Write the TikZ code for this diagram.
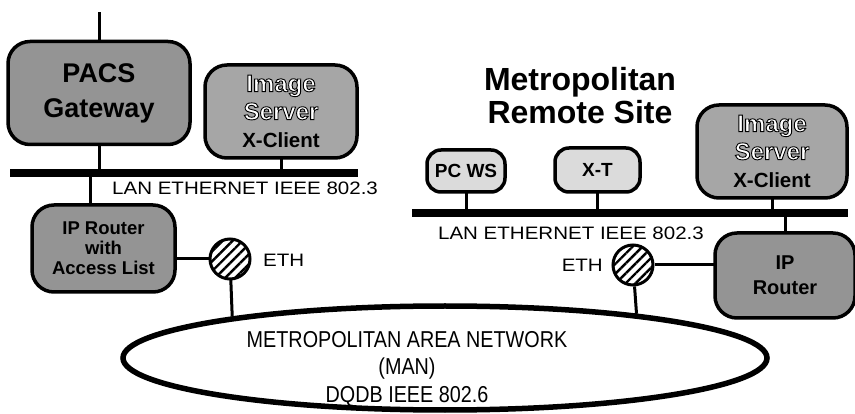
\documentclass[tikz,border=0pt]{standalone}
\usepackage{fontspec}
\setmainfont{Liberation Sans}
\newfontfamily\lanfont{Liberation Sans}[FakeStretch=1.14]
\newfontfamily\manfont{Liberation Sans}[FakeStretch=0.86]
\usetikzlibrary{shapes.geometric,patterns.meta}
% outlined lettering as in the scanned figure
\newcommand{\hollow}[1]{\textcolor{white}{\special{pdf:literal direct 0.9 w 2 Tr 0 G}#1\special{pdf:literal direct 0 Tr}}}
\newcommand{\client}{{\fontsize{20.5}{26}\selectfont X-Client}}

\begin{document}
\begin{tikzpicture}[
            x=1pt, y=-1pt,
            HostBox/.style={draw, line width=3.5pt, rounded corners=22pt, fill=black!42, align=center, inner sep=0pt, outer sep=0pt},
            ServerBox/.style={HostBox, fill=black!35, minimum height=93pt, font=\bfseries\fontsize{24}{28}\selectfont},
            LightBox/.style={HostBox, rounded corners=14pt, fill=black!14, font=\bfseries\fontsize{19}{20}\selectfont},
            LanBar/.style={fill=black, inner sep=0pt, minimum height=8pt, outer sep=0pt},
            EthTap/.style={draw, circle, line width=3pt, minimum size=40pt, inner sep=0pt, fill=white, pattern={Lines[angle=45,distance=7pt,line width=2.4pt]}},
            LanLabel/.style={font=\lanfont\fontsize{18}{20}\selectfont, inner sep=0pt},
            Link/.style={line width=3pt},
            ]
            \useasboundingbox (0,0) rectangle (855,414);

            % main hospital site
            \node [HostBox, minimum width=182pt, minimum height=103pt, font=\bfseries\fontsize{27}{35}\selectfont] (pacs) at (99,93) {PACS\\Gateway};
            \node [ServerBox, minimum width=152pt] (srvL) at (281,111.5) {\hollow{Image}\\\hollow{Server}\\\client};
            \node [LanBar, minimum width=348pt] (lanL) at (184,173) {};
            \node [LanLabel, anchor=west] (lanLtxt) at (112,188) {LAN ETHERNET IEEE 802.3};
            \node [HostBox, minimum width=143pt, minimum height=87pt, font=\bfseries\fontsize{18.5}{20}\selectfont] (rtrL) at (103.5,248.5) {IP Router\\with\\Access List};
            \node [EthTap] (ethL) at (230,259) {};
            \node [LanLabel, anchor=west] (ethLtxt) at (263,260) {ETH};

            % remote site
            \node [font=\bfseries\fontsize{32}{33}\selectfont, align=center] (site) at (580,96) {Metropolitan\\Remote Site};
            \node [LightBox, minimum width=78pt, minimum height=42pt] (pcws) at (466,171) {PC WS};
            \node [LightBox, minimum width=85pt, minimum height=44pt] (xt) at (597.5,170) {X-T};
            \node [ServerBox, minimum width=150pt] (srvR) at (772,151.5) {\hollow{Image}\\\hollow{Server}\\\client};
            \node [LanBar, minimum width=436pt] (lanR) at (630,213) {};
            \node [LanLabel] (lanRtxt) at (571,233) {LAN ETHERNET IEEE 802.3};
            \node [HostBox, minimum width=140pt, minimum height=85pt, font=\bfseries\fontsize{20}{25}\selectfont] (rtrR) at (785,275.5) {IP\\Router};
            \node [EthTap] (ethR) at (633,265) {};
            \node [LanLabel, anchor=east] (ethRtxt) at (603,265) {ETH};

            % metropolitan area network
            \node [draw, ellipse, line width=5.5pt, minimum width=644pt, minimum height=104pt, inner sep=0pt] (man) at (445,358) {};
            \node [font=\manfont\fontsize{23}{27.5}\selectfont, align=center] (mantxt) at (407,369) {METROPOLITAN AREA NETWORK\\(MAN)\\DQDB IEEE 802.6};

            \coordinate (uplink) at (100,12);
            \draw [Link] (pacs.north) -- (pacs.north |- uplink);
            \draw [Link] (pacs.south) -- (pacs.south |- lanL.north);
            \draw [Link] (srvL.south) -- (srvL.south |- lanL.north);
            \draw [Link] ([xshift=-13pt]rtrL.north) -- ([xshift=-13pt]rtrL.north |- lanL.south);
            \draw [Link] (rtrL.east |- ethL) -- (ethL);
            \draw [Link] (ethL) -- (man.169);

            \draw [Link] (pcws.south) -- (pcws.south |- lanR.north);
            \draw [Link] (xt.south) -- (xt.south |- lanR.north);
            \draw [Link] (srvR.south) -- (srvR.south |- lanR.north);
            \draw [Link] (rtrR.north) -- (rtrR.north |- lanR.south);
            \draw [Link] (ethR) -- (rtrR.west |- ethR);
            \draw [Link] (ethR) -- (man.13);
\end{tikzpicture}
\end{document}
